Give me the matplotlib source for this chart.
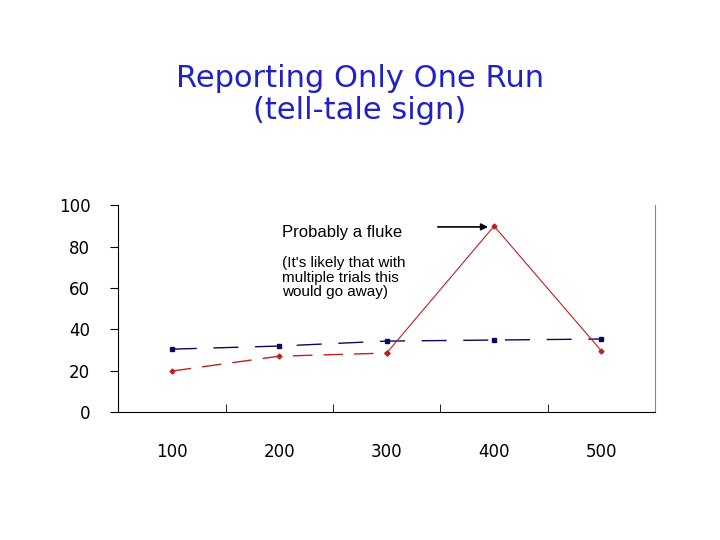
import matplotlib
matplotlib.use('Agg')
import matplotlib.pyplot as plt
import numpy as np

categories = ['100', '200', '300', '400', '500']
blue_vals = [30.4, 31.9, 34.3, 34.8, 35.3]
red_vals = [19.8, 27.0, 28.5, 89.9, 29.5]

fig = plt.figure(figsize=(7.2, 5.4), dpi=100)
fig.text(0.5, 0.825, 'Reporting Only One Run\n(tell-tale sign)', ha='center', va='center',
         fontsize=22, color='#2020C8', linespacing=1.15)

ax = fig.add_axes([0.164, 0.237, 0.746, 0.383])
x = np.arange(len(categories))
ax.plot(x, blue_vals, color='#0A0A5A', lw=1, dashes=(18, 12), marker='s', ms=3)
ax.plot(x[:3], red_vals[:3], color='#C02020', lw=1, dashes=(14, 8), marker='D', ms=2.5)
ax.plot(x[2:], red_vals[2:], color='#C02020', lw=0.8, marker='D', ms=2.5)

ax.set_xlim(-0.5, 4.5)
ax.set_ylim(0, 100)
ax.set_yticks([0, 20, 40, 60, 80, 100])
ax.set_xticks(x)
ax.set_xticklabels(categories)
ax.set_xticks(np.arange(-0.5, 5, 1), minor=True)
ax.tick_params(axis='x', which='major', length=0, pad=22, labelsize=12)
ax.tick_params(axis='x', which='minor', length=6, direction='in')
ax.tick_params(axis='y', labelsize=12, pad=14, length=6)
ax.spines['top'].set_visible(False)
ax.spines['right'].set_color('#888888')

ax.text(1.03, 87, 'Probably a fluke', fontsize=12, va='center', family='Liberation Sans')
ax.text(1.03, 65, "(It's likely that with\nmultiple trials this\nwould go away)", fontsize=11,
        va='center', linespacing=1.05, family='Liberation Sans')
ax.annotate('', xy=(2.97, 89.5), xytext=(2.45, 89.5),
            arrowprops=dict(arrowstyle='-|>', color='black', lw=1.2))

plt.savefig('out.png', dpi=100)
